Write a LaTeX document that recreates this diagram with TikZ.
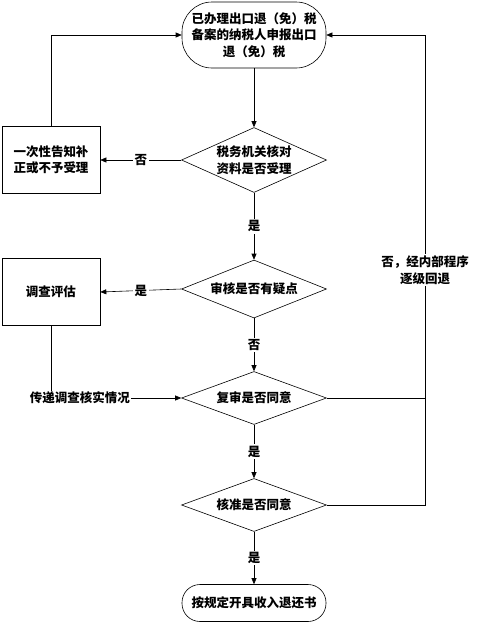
\documentclass[tikz,border=0pt]{standalone}
\usepackage{fontspec}
\setmainfont{Noto Sans CJK SC}
\usetikzlibrary{shapes.geometric,arrows.meta}

\tikzset{
  line/.style={draw, line width=.6pt},
  arr/.style={line, -{Triangle[length=6pt,width=5pt]}},
  txt/.style={font=\bfseries\fontsize{12.5pt}{16.5pt}\selectfont, align=center},
  term/.style={txt, draw, line width=.6pt, rectangle, rounded corners=#1,
    minimum width=144pt, inner sep=0pt},
  process/.style={txt, draw, line width=.6pt, rectangle,
    minimum width=98pt, minimum height=67pt, inner sep=0pt},
  decision/.style={txt, draw, line width=.6pt, diamond, aspect=2.2,
    inner sep=0pt, minimum width=145pt},
  tag/.style={txt, fill=white, inner sep=1.5pt},
}

\begin{document}
\begin{tikzpicture}[x=1pt, y=-1pt]
  \useasboundingbox (0,0) rectangle (481,622);
  % main column
  \node[term=30pt, minimum height=66pt] (start) at (254,35)
    {已办理出口退（免）税\\备案的纳税人申报出口\\退（免）税};
  \node[decision, minimum height=65pt] (check) at (254,160)
    {税务机关核对\\资料是否受理};
  \node[decision, minimum height=58pt] (doubt) at (254,289) {审核是否有疑点};
  \node[decision, minimum height=53pt] (review) at (254,398) {复审是否同意};
  \node[decision, minimum height=53pt] (approve) at (254,505) {核准是否同意};
  \node[term=18pt, minimum height=37pt] (finish) at (254,603)
    {按规定开具收入退还书};
  % left column
  \node[process] (notify) at (51,160) {一次性告知补\\正或不予受理};
  \node[process] (survey) at (51,292) {调查评估};
  \node[txt, inner sep=1pt] (report) at (80,398) {传递调查核实情况};
  \coordinate (back) at (425,35);

  \draw[arr] (start) -- (check);
  \draw[arr] (check) -- node[tag] {是} (doubt);
  \draw[arr] (doubt) -- node[tag] {否} (review);
  \draw[arr] (review) -- node[tag] {是} (approve);
  \draw[arr] (approve) -- node[tag] {是} (finish);

  \draw[arr] (check.west) -- node[tag] {否} (notify.east);
  \draw[arr] (notify.north) |- (start.west);
  \draw[arr] (doubt.west) -- node[tag] {是} (survey.east);
  \draw[line] (survey.south) -- (report.north -| survey.south);
  \draw[arr] (report.east) -- (review.west);

  \draw[line] (review.east) -- (review.east -| back);
  \draw[arr] (approve.east) -| (back) -- (start.east);
  \node[tag] (fallback) at (425,270) {否，经内部程序\\逐级回退};
\end{tikzpicture}
\end{document}
